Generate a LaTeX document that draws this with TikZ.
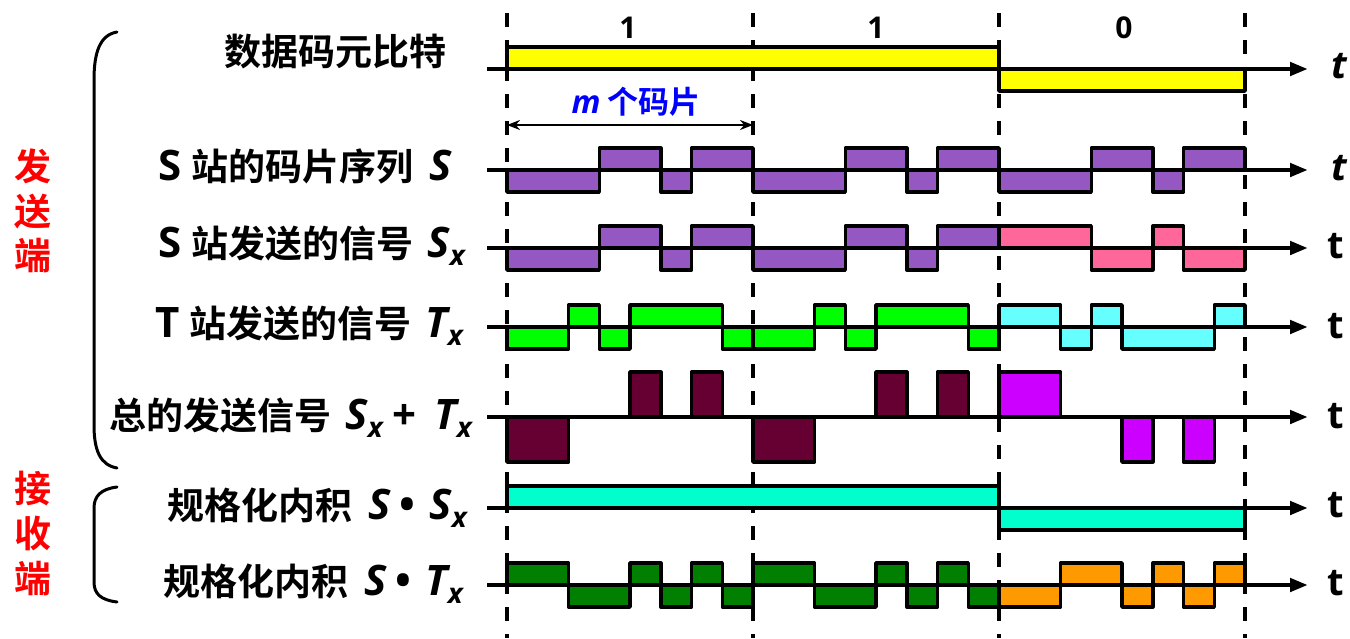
\documentclass[tikz,border=0pt]{standalone}
\usepackage{fontspec}
\usetikzlibrary{arrows.meta}
\newfontfamily\cjk{Noto Sans CJK SC Bold}
\newfontfamily\lat{Open Sans}
\definecolor{cyel}{HTML}{FFFF00}
\definecolor{cpur}{HTML}{9558C2}
\definecolor{cpink}{HTML}{FF6699}
\definecolor{cgrn}{HTML}{00FF00}
\definecolor{ccyan}{HTML}{66FFFF}
\definecolor{cmar}{HTML}{660033}
\definecolor{cmag}{HTML}{CC00FF}
\definecolor{caqua}{HTML}{00FFCC}
\definecolor{cdgrn}{HTML}{007F00}
\definecolor{corg}{HTML}{FF9900}
\newcommand\LI[1]{{\fontsize{42}{42}\selectfont\lat\bfseries\itshape #1}}
\newcommand\LU[1]{{\fontsize{42}{42}\selectfont\lat\bfseries #1}}
\newcommand\Sub[1]{\raisebox{-8pt}{\fontsize{28}{28}\selectfont\lat\bfseries\itshape #1}}
\newcommand\wave[4]{%
  \foreach \a/\b/\v in {#4}{%
    \filldraw[sig,fill=#1] ({507+30.75*\a},#2) rectangle ({507+30.75*\b},{#2-#3*(\v)});}}
\begin{document}
\begin{tikzpicture}[x=1pt,y=-1pt,
  sig/.style={draw=black,line width=3.5pt,line join=round},
  axis/.style={line width=4.5pt,-{Triangle[length=18pt,width=13pt]}},
  guide/.style={line width=3.3pt,dash pattern=on 14pt off 13pt},
  dim/.style={line width=2pt,{Stealth[length=13pt,width=10pt]}-{Stealth[length=13pt,width=10pt]}},
  brace/.style={line width=3pt,line cap=round},
  lab/.style={anchor=base east,inner sep=0pt,font=\fontsize{37}{40}\selectfont\cjk},
  side/.style={anchor=base,inner sep=0pt,text=red,font=\fontsize{37}{40}\selectfont\cjk},
  dig/.style={anchor=base,inner sep=0pt,font=\fontsize{30}{30}\selectfont\lat\bfseries},
  tit/.style={anchor=base,inner sep=0pt,font=\fontsize{38}{38}\selectfont\lat\bfseries\itshape},
  tup/.style={anchor=base,inner sep=0pt,font=\fontsize{38}{38}\selectfont\lat\bfseries}]
\useasboundingbox (0,0) rectangle (1350,638);
\fill[white] (0,0) rectangle (1350,638);
% guide lines
\foreach \n/\x in {g0/507,g1/753,g2/999,g3/1245}{
  \coordinate (\n t) at (\x,13);
  \coordinate (\n b) at (\x,638);
  \draw[guide] (\n t) -- (\n b);}
% waveforms
\wave{cyel}{69}{22}{0/16/1,16/24/-1}
\wave{cpur}{170}{22}{0/3/-1,3/5/1,5/6/-1,6/8/1,8/11/-1,11/13/1,13/14/-1,14/16/1,16/19/-1,19/21/1,21/22/-1,22/24/1}
\wave{cpur}{248}{22}{0/3/-1,3/5/1,5/6/-1,6/8/1,8/11/-1,11/13/1,13/14/-1,14/16/1}
\wave{cpink}{248}{22}{16/19/1,19/21/-1,21/22/1,22/24/-1}
\wave{cgrn}{327}{22}{0/2/-1,2/3/1,3/4/-1,4/7/1,7/8/-1,8/10/-1,10/11/1,11/12/-1,12/15/1,15/16/-1}
\wave{ccyan}{327}{22}{16/18/1,18/19/-1,19/20/1,20/23/-1,23/24/1}
\wave{cmar}{417}{22.5}{0/2/-2,4/5/2,6/7/2,8/10/-2,12/13/2,14/15/2}
\wave{cmag}{417}{22.5}{16/18/2,20/21/-2,22/23/-2}
\wave{caqua}{508}{22}{0/16/1,16/24/-1}
\wave{cdgrn}{585}{22}{0/2/1,2/4/-1,4/5/1,5/6/-1,6/7/1,7/8/-1,8/10/1,10/12/-1,12/13/1,13/14/-1,14/15/1,15/16/-1}
\wave{corg}{585}{22}{16/18/-1,18/20/1,20/21/-1,21/22/1,22/23/-1,23/24/1}
% axes
\foreach \n/\y in {a1/69,a2/170,a3/248,a4/327,a5/417,a6/508,a7/585}{
  \coordinate (\n s) at (487,\y);
  \coordinate (\n e) at (1308,\y);
  \draw[axis] (\n s) -- (\n e);}
\node[tit] (t1) at (1339,78) {t};
\node[tit] (t2) at (1339,180) {t};
\node[tup] (t3) at (1336,258) {t};
\node[tup] (t4) at (1336,338) {t};
\node[tup] (t5) at (1336,428) {t};
\node[tup] (t6) at (1336,517) {t};
\node[tup] (t7) at (1336,595) {t};
% bit values
\node[dig] (b1) at (628,38) {1};
\node[dig] (b2) at (876,38) {1};
\node[dig] (b3) at (1124,38) {0};
% m chips
\coordinate (m1) at (507,125);
\coordinate (m2) at (753,125);
\draw[dim] (m1) -- (m2);
\node[anchor=base,inner sep=0pt,text=blue,font=\fontsize{31}{31}\selectfont\cjk] (mlab) at (636,113)
  {{\fontsize{32}{32}\selectfont\lat\bfseries\itshape m}\hspace{7pt}个码片};
% row labels
\node[lab] (l1) at (447,65) {数据码元比特};
\node[lab] (l2) at (452,180) {\LU{S}\hspace{10pt}站的码片序列\hspace{16pt}\LI{S}};
\node[lab] (l3) at (465,257) {\LU{S}\hspace{10pt}站发送的信号\hspace{14pt}\LI{S}\Sub{x}};
\node[lab] (l4) at (463,337) {\LU{T}\hspace{10pt}站发送的信号\hspace{14pt}\LI{T}\Sub{x}};
\node[lab] (l5) at (472,429) {总的发送信号\hspace{14pt}\LI{S}\Sub{x}\hspace{10pt}\LU{+}\hspace{18pt}\LI{T}\Sub{x}};
\node[lab] (l6) at (467,519) {规格化内积\hspace{16pt}\LI{S}\hspace{9pt}\LU{•}\hspace{14pt}\LI{S}\Sub{x}};
\node[lab] (l7) at (463,595) {规格化内积\hspace{16pt}\LI{S}\hspace{9pt}\LU{•}\hspace{14pt}\LI{T}\Sub{x}};
% side labels
\node[side] (s1) at (33,180) {发};
\node[side] (s2) at (33,225) {送};
\node[side] (s3) at (33,269) {端};
\node[side] (r1) at (33,502) {接};
\node[side] (r2) at (33,547) {收};
\node[side] (r3) at (33,592) {端};
% brackets
\draw[brace] (117,32) .. controls (100,35) and (94,52) .. (94,80) -- (94,425) .. controls (94,450) and (100,465) .. (117,468);
\draw[brace] (117,487) .. controls (101,489) and (94,496) .. (94,508) -- (94,582) .. controls (94,594) and (101,600) .. (117,602);
\end{tikzpicture}
\end{document}
